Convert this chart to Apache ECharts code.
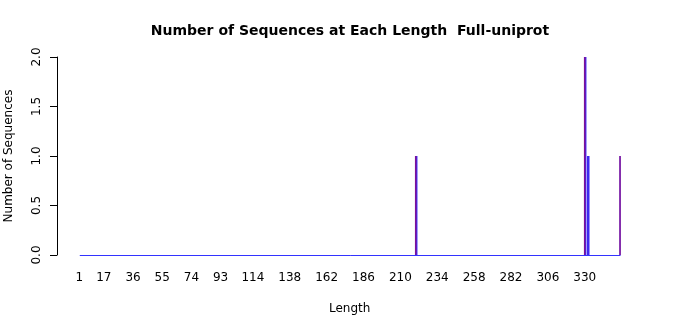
<!DOCTYPE html>
<html><head><meta charset="utf-8">
<script src="https://cdn.jsdelivr.net/npm/echarts@6/dist/echarts.min.js"></script>
<style>html,body{margin:0;padding:0;background:#fff}#c{width:700px;height:315px}</style>
</head><body><div id="c"></div>
<script>
const maxLength = 353;
const tickLabels = [1,17,36,55,74,93,114,138,162,186,210,234,258,282,306,330];
// sequences counted per length (two overlaid sets)
const blueLengths = [220,330,332,353];
const blueCounts  = [1,2,1,1];
const redLengths  = [220,330,353];
const redCounts   = [1,2,1];

const categories = [];
for (let i = 1; i <= maxLength; i++) categories.push(String(i));
function fill(lengths, counts){
  const arr = new Array(maxLength).fill(0);
  lengths.forEach((l,k)=>{arr[l-1]=counts[k];});
  return arr;
}
const blueData = fill(blueLengths, blueCounts);
const redData = fill(redLengths, redCounts);
const tickSet = new Set(tickLabels.map(String));
const font = 'DejaVu Sans';

const chart = echarts.init(document.getElementById('c'), null, {renderer:'canvas'});
chart.setOption({
  animation:false,
  backgroundColor:'#fff',
  title:{text:'Number of Sequences at Each Length  Full-uniprot',left:'center',top:19,
    textStyle:{fontFamily:font,fontSize:14,fontWeight:'bold',color:'#000'}},
  grid:{left:78.5,right:79.2,top:57,bottom:60,containLabel:false,outerBoundsMode:'none'},
  xAxis:{type:'category',data:categories,boundaryGap:true,
    axisLine:{show:false},axisTick:{show:false},
    axisLabel:{interval:(i,v)=>tickSet.has(v),margin:17,fontFamily:font,fontSize:12,color:'#000',hideOverlap:false},
    name:'Length',nameLocation:'middle',nameGap:48,
    nameTextStyle:{fontFamily:font,fontSize:12,color:'#000'}},
  yAxis:{type:'value',min:0,max:2,interval:0.5,offset:21.5,
    axisLine:{show:true,lineStyle:{color:'#000',width:1}},
    axisTick:{show:true,length:7,lineStyle:{color:'#000'}},
    splitLine:{show:false},
    axisLabel:{rotate:90,margin:14,fontFamily:font,fontSize:12,color:'#000',
      formatter:v=>v.toFixed(1)},
    name:'Number of Sequences',nameLocation:'middle',nameGap:42,
    nameTextStyle:{fontFamily:font,fontSize:12,color:'#000'}},
  series:[
    {type:'bar',data:blueData,barWidth:2.5,barGap:'-100%',
      itemStyle:{color:'rgba(50,30,240,0.95)'},
      markLine:{symbol:'none',silent:true,label:{show:false},
        lineStyle:{color:'#3333ff',type:'solid',width:1},
        data:[[{coord:[categories[0],0]},{coord:[categories[maxLength-1],0]}]]}},
    {type:'bar',data:redData,barWidth:1.5,barGap:'-100%',
      itemStyle:{color:'rgba(170,0,90,0.6)'}}
  ]
});
</script></body></html>
